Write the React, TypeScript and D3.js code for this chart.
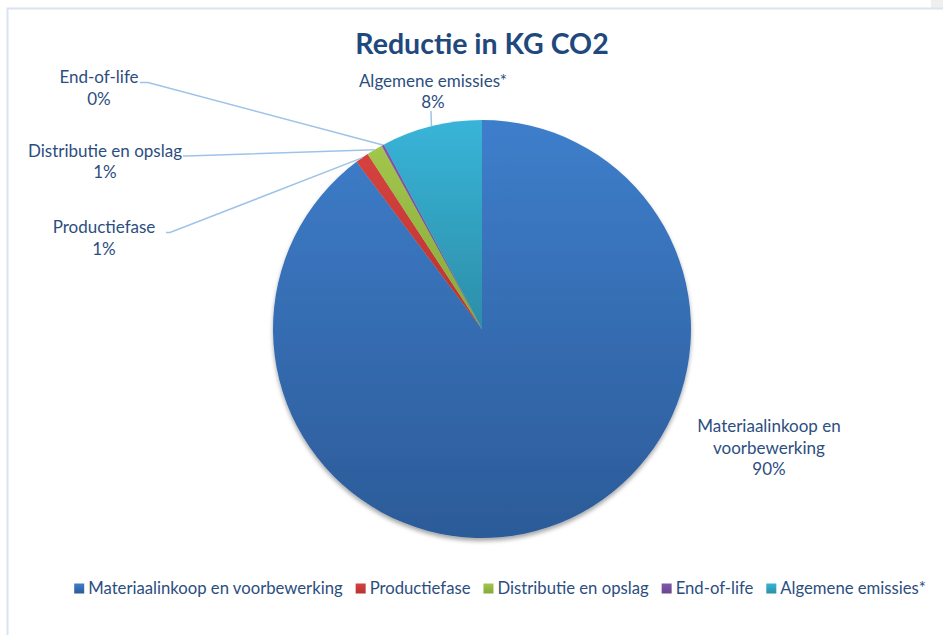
import React, { useEffect, useRef } from "react";
import * as d3 from "d3";

// Share of the CO2 reduction per life-cycle phase (percent)
const categories = [
  "Materiaalinkoop en voorbewerking",
  "Productiefase",
  "Distributie en opslag",
  "End-of-life",
  "Algemene emissies*",
];
const values = [89.75, 1.03, 1.25, 0.2, 7.77];
const colorsTop = ["#3e7ecb", "#d5433f", "#a2c64c", "#8058ab", "#38b4d8"];
const colorsBottom = ["#2c5b98", "#b8322f", "#86a83a", "#6a4592", "#2c8ea8"];
const titleText = "Reductie in KG CO2";

const W = 943;
const H = 635;
const CX = 482;
const CY = 329;
const R = 209;
const TEXT = "#2c4e7f";
const FONT = "Lato, 'Open Sans', sans-serif";
const LABEL_SIZE = 17;
const LEGEND_SIZE = 16.7;

// Label layout per slice: text lines' centre x, first baseline y, and leader line start
const labelLayout: { x: number; y: number; lines: string[]; leader: [number, number][] | null }[] = [
  { x: 769, y: 432, lines: ["Materiaalinkoop en", "voorbewerking"], leader: null },
  { x: 104, y: 233, lines: ["Productiefase"], leader: [[166, 232.5], [170, 232.5]] },
  { x: 105, y: 156.5, lines: ["Distributie en opslag"], leader: [[183, 156], [186, 156]] },
  { x: 99, y: 83, lines: ["End-of-life"], leader: [[140, 82.5], [148, 82.5]] },
  { x: 433, y: 86.5, lines: ["Algemene emissies*"], leader: [[431, 111], [431, 112]] },
];

export default function App() {
  const ref = useRef<SVGSVGElement>(null);

  useEffect(() => {
    const svg = d3.select(ref.current);
    svg.selectAll("*").remove();

    const defs = svg.append("defs");
    colorsTop.forEach((c, i) => {
      const g = defs
        .append("linearGradient")
        .attr("id", `grad${i}`)
        .attr("x1", 0)
        .attr("y1", 0)
        .attr("x2", 0)
        .attr("y2", 1);
      g.append("stop").attr("offset", "0%").attr("stop-color", c);
      g.append("stop").attr("offset", "100%").attr("stop-color", colorsBottom[i]);
    });
    const shadow = defs
      .append("filter")
      .attr("id", "shadow")
      .attr("x", "-10%")
      .attr("y", "-10%")
      .attr("width", "120%")
      .attr("height", "125%");
    shadow
      .append("feDropShadow")
      .attr("dx", 0)
      .attr("dy", 3)
      .attr("stdDeviation", 2.2)
      .attr("flood-color", "#000")
      .attr("flood-opacity", 0.35);

    // Background and frame
    svg.append("rect").attr("width", W).attr("height", H).attr("fill", "#fff");
    svg.append("rect").attr("x", 931).attr("y", 0).attr("width", 12).attr("height", 8).attr("fill", "#efefef");
    svg
      .append("path")
      .attr("d", `M7.5,${H} V8.5 H${W}`)
      .attr("fill", "none")
      .attr("stroke", "#d9e3f2")
      .attr("stroke-width", 2);

    // Title
    svg
      .append("text")
      .attr("x", CX)
      .attr("y", 54)
      .attr("text-anchor", "middle")
      .attr("font-family", FONT)
      .attr("font-weight", 700)
      .attr("font-size", 28.5)
      .attr("fill", "#1f497d")
      .text(titleText);

    const pie = d3
      .pie<number>()
      .sort(null)
      .value((d) => d)
      .startAngle(0)
      .endAngle(2 * Math.PI);
    const arcs = pie(values);
    const arc = d3.arc<d3.PieArcDatum<number>>().innerRadius(0).outerRadius(R);
    const total = d3.sum(values);
    const pct = d3.format(".0%");

    const g = svg.append("g").attr("transform", `translate(${CX},${CY})`);
    const slices = g.append("g").attr("filter", "url(#shadow)");
    slices
      .selectAll("path")
      .data(arcs)
      .join("path")
      .attr("d", arc)
      .attr("fill", (_d, i) => `url(#grad${i})`);

    // Leader lines from labels to slice edge midpoints
    arcs.forEach((a, i) => {
      const lay = labelLayout[i];
      if (!lay.leader) return;
      const mid = (a.startAngle + a.endAngle) / 2;
      const px = CX + R * Math.sin(mid);
      const py = CY - R * Math.cos(mid);
      const pts: [number, number][] = [...lay.leader, [px, py]];
      svg
        .append("path")
        .attr("d", d3.line()(pts))
        .attr("fill", "none")
        .attr("stroke", "#9fc3e8")
        .attr("stroke-width", 1.5);
    });

    // Data labels
    arcs.forEach((a, i) => {
      const lay = labelLayout[i];
      const t = svg
        .append("text")
        .attr("text-anchor", "middle")
        .attr("font-family", FONT)
        .attr("font-size", LABEL_SIZE)
        .attr("fill", TEXT);
      const lines = [...lay.lines, pct(a.data / total)];
      lines.forEach((ln, k) => {
        t.append("tspan").attr("x", lay.x).attr("y", lay.y + k * 21.5).text(ln);
      });
    });

    // Legend, laid out from measured text widths
    const legend = svg.append("g");
    const items = categories.map((c, i) => {
      const it = legend.append("g");
      it.append("rect").attr("width", 10).attr("height", 10).attr("y", -10.5).attr("fill", `url(#grad${i})`);
      const tx = it
        .append("text")
        .attr("x", 14)
        .attr("font-family", FONT)
        .attr("font-size", LEGEND_SIZE)
        .attr("fill", TEXT)
        .text(c);
      const w = (tx.node() as SVGTextElement).getComputedTextLength();
      return { it, w: 14 + w };
    });
    const gap = 13;
    const totalW = d3.sum(items, (d) => d.w) + gap * (items.length - 1);
    let x = 500 - totalW / 2;
    items.forEach((d) => {
      d.it.attr("transform", `translate(${x},594)`);
      x += d.w + gap;
    });
  }, []);

  return (
    <svg
      ref={ref}
      width={W}
      height={H}
      style={{ position: "fixed", left: 0, top: 0, display: "block" }}
    />
  );
}
